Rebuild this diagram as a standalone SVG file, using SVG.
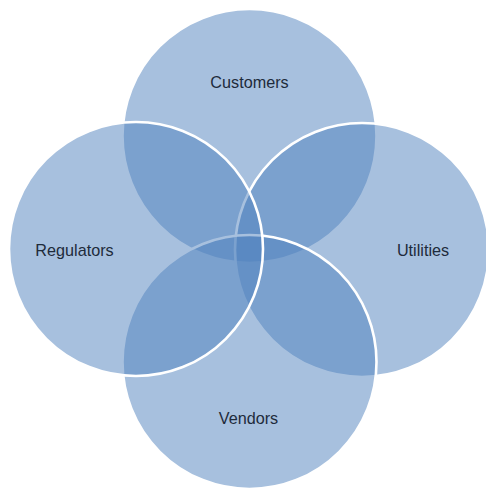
<svg xmlns="http://www.w3.org/2000/svg" width="486" height="491" viewBox="0 0 486 491">
  <style>
    .c { fill: #4F81BD; fill-opacity: 0.5; stroke: #FFFFFF; stroke-width: 2.6; }
    .t { font-family: "Liberation Sans", Arial, sans-serif; font-size: 16.2px; fill: #1E2B3B; text-anchor: middle; }
  </style>
  <rect x="0" y="0" width="486" height="491" fill="#FFFFFF"/>
  <g id="connectors"></g>
  <g id="customers">
    <circle class="c" cx="249.5" cy="136" r="127"/>
  </g>
  <g id="utilities">
    <circle class="c" cx="362" cy="250" r="127"/>
  </g>
  <g id="vendors">
    <circle class="c" cx="249.5" cy="362" r="127"/>
  </g>
  <g id="regulators">
    <circle class="c" cx="136" cy="249" r="127"/>
  </g>
  <g id="labels">
    <text class="t" x="249.5" y="87.5">Customers</text>
    <text class="t" x="423" y="255.5">Utilities</text>
    <text class="t" x="248.5" y="424">Vendors</text>
    <text class="t" x="74.5" y="255.5">Regulators</text>
  </g>
</svg>
